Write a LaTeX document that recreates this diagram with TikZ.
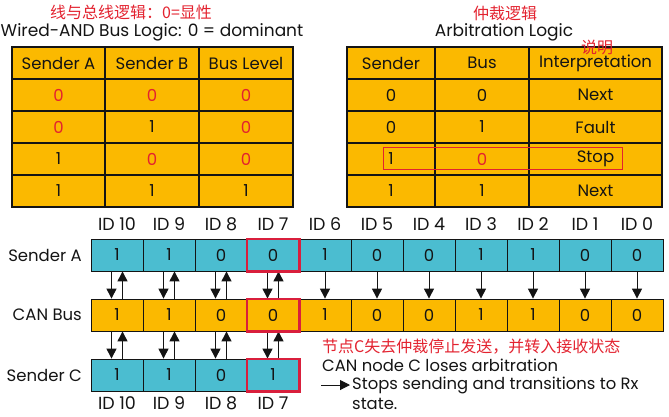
\documentclass[tikz,border=0pt]{standalone}
\usepackage{fontspec}
\setmainfont{Poppins}
\newfontfamily\cjk{Noto Sans CJK SC}
\usetikzlibrary{arrows.meta}
\definecolor{gold}{HTML}{FBB900}
\definecolor{teal2}{HTML}{4BBDD0}
\definecolor{ink}{HTML}{141414}
\definecolor{hred}{HTML}{E3222F}
\definecolor{boxred}{HTML}{D91F3C}
\begin{document}
\begin{tikzpicture}[x=1pt,y=-1pt,
  tcell/.style={draw=ink,line width=1.2pt,fill=gold,minimum height=32pt,inner sep=0pt,text=ink,font=\fontsize{16.5}{18}\selectfont},
  bcell/.style={draw=ink,line width=0.8pt,minimum width=52pt,minimum height=32pt,inner sep=0pt,text=ink,font=\fontsize{16.5}{18}\selectfont},
  acell/.style={bcell,fill=teal2},
  ucell/.style={bcell,fill=gold},
  idlab/.style={text=ink,font=\fontsize{17.5}{19}\selectfont},
  rowlab/.style={text=ink,anchor=east,inner sep=0pt,font=\fontsize{16.5}{18}\selectfont},
  ttl/.style={text=ink,font=\fontsize{17}{19}\selectfont},
  note/.style={text=ink,anchor=west,inner sep=0pt,font=\fontsize{16.4}{18}\selectfont},
  zh/.style={text=hred,font=\cjk\fontsize{16}{18}\selectfont},
  arr/.style={-{Triangle[length=10pt,width=10pt]},line width=1pt,draw=ink},
  redbox/.style={draw=boxred,line width=2.2pt}
]
\useasboundingbox (0,0) rectangle (669,416);
% titles
\node[zh] (zh1) at (131,12) {线与总线逻辑：0=显性};
\node[ttl] (t1) at (152,32) {Wired-AND Bus Logic: 0 = dominant};
\node[zh] (zh2) at (505,13) {仲裁逻辑};
\node[ttl] (t2) at (504,32) {Arbitration Logic};
% left table
\foreach \r/\a/\b [count=\i from 0] in {%
  Sender A/Sender B/Bus Level,%
  \textcolor{hred}{0}/\textcolor{hred}{0}/\textcolor{hred}{0},%
  \textcolor{hred}{0}/1/\textcolor{hred}{0},%
  1/\textcolor{hred}{0}/\textcolor{hred}{0},%
  1/1/1}{%
  \node[tcell,minimum width=93pt] (L\i a) at (58.5,63+32*\i) {\r};
  \node[tcell,minimum width=94pt] (L\i b) at (152,63+32*\i) {\a};
  \node[tcell,minimum width=94pt] (L\i c) at (246,63+32*\i) {\b};
}
% right table
\foreach \r/\a/\b [count=\i from 0] in {%
  Sender/Bus/Interpretation,%
  0/0/Next,%
  0/1/Fault,%
  1/\textcolor{hred}{0}/Stop,%
  1/1/Next}{%
  \node[tcell,minimum width=88pt] (R\i a) at (391,63+32*\i) {\r};
  \node[tcell,minimum width=94pt] (R\i b) at (482,63+32*\i) {\a};
  \node[tcell,minimum width=133pt] (R\i c) at (595.5,63+32*\i) {\b};
}
\node[zh] (zh3) at (597,47) {说明};
\draw[draw=hred,line width=0.9pt] (383,147) rectangle (622,169);
% row labels
\node[rowlab] (la) at (82,255) {Sender A};
\node[rowlab] (lb) at (82,315) {CAN Bus};
\node[rowlab] (lc) at (82,375) {Sender C};
% bit cells
\foreach \v/\n [count=\i from 0] in {1/10,1/9,0/8,0/7,1/6,0/5,0/4,1/3,1/2,0/1,0/0}{%
  \node[idlab] (id\i) at (117+52*\i,224) {ID \n};
  \node[acell] (a\i) at (117+52*\i,255) {\v};
  \node[ucell] (b\i) at (117+52*\i,315) {\v};
}
\foreach \v/\n [count=\i from 0] in {1/10,1/9,0/8,1/7}{%
  \node[acell] (c\i) at (117+52*\i,375) {\v};
  \node[idlab] (jd\i) at (117+52*\i,403) {ID \n};
}
% arrows
\foreach \i in {0,...,3}{%
  \draw[arr] ([xshift=-5.5pt]a\i.south) -- ([xshift=-5.5pt]b\i.north);
  \draw[arr] ([xshift=5.5pt]b\i.north) -- ([xshift=5.5pt]a\i.south);
  \draw[arr] ([xshift=-5.5pt]b\i.south) -- ([xshift=-5.5pt]c\i.north);
  \draw[arr] ([xshift=5.5pt]c\i.north) -- ([xshift=5.5pt]b\i.south);
}
\foreach \i in {4,...,10}{%
  \draw[arr] (a\i.south) -- (b\i.north);
}
% highlight
\draw[redbox] (a3.north west) rectangle (a3.south east);
\draw[redbox] (b3.north west) rectangle (b3.south east);
\draw[redbox] (c3.north west) rectangle (c3.south east);
% notes
\node[zh,anchor=west,inner sep=0pt] (n0) at (322,347) {节点C失去仲裁停止发送，并转入接收状态};
\node[note] (n1) at (322,365) {CAN node C loses arbitration};
\coordinate (s0) at (321,385);
\node[note] (n2) at (352,385) {Stops sending and transitions to Rx};
\node[note] (n3) at (352,404) {state.};
\draw[arr] (s0) -- ([xshift=-2pt]n2.west);
\end{tikzpicture}
\end{document}
